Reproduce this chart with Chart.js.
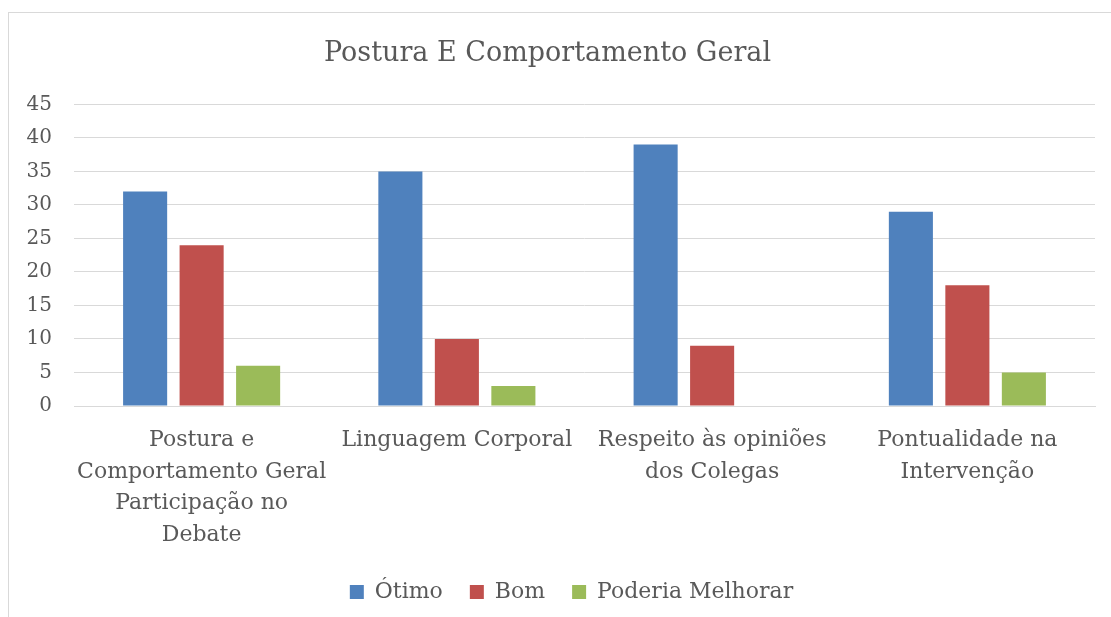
<!DOCTYPE html>
<html>
<head>
<meta charset="utf-8">
<script src="https://cdn.jsdelivr.net/npm/chart.js@4/dist/chart.umd.min.js"></script>
<style>
  html, body { margin: 0; padding: 0; background: #fff; overflow: hidden; }
  #wrap { position: relative; width: 1111px; height: 617px; }
  #frame { position: absolute; left: 8px; top: 12px; width: 1103px; height: 605px;
           border-left: 1px solid #d9d9d9; border-top: 1px solid #d9d9d9; box-sizing: border-box; pointer-events: none; }
  canvas { position: absolute; left: 0; top: 0; }
</style>
</head>
<body>
<div id="wrap">
  <canvas id="c" width="1111" height="617"></canvas>
  <div id="frame"></div>
</div>
<script>
const categories = [
  ["Postura e", "Comportamento Geral", "Participação no", "Debate"],
  ["Linguagem Corporal"],
  ["Respeito às opiniões", "dos Colegas"],
  ["Pontualidade na", "Intervenção"]
];
const seriesNames = ["Ótimo", "Bom", "Poderia Melhorar"];
const otimo = [32, 35, 39, 29];
const bom = [24, 10, 9, 18];
const poderiaMelhorar = [6, 3, 0, 5];
const yTicks = [0, 5, 10, 15, 20, 25, 30, 35, 40, 45];
const titleText = "Postura E Comportamento Geral";

const FONT = "'DejaVu Serif', 'Liberation Serif', serif";
const TXT = "#595959";

Chart.defaults.font.family = FONT;
Chart.defaults.color = TXT;

const legendShift = {
  id: 'legendShift',
  afterLayout(chart) {
    if (chart.legend) { chart.legend.left += 24; chart.legend.right += 24; }
  }
};

new Chart(document.getElementById('c'), {
  type: 'bar',
  data: {
    labels: categories,
    datasets: [
      { label: seriesNames[0], data: otimo, backgroundColor: '#4F81BD' },
      { label: seriesNames[1], data: bom, backgroundColor: '#C0504D' },
      { label: seriesNames[2], data: poderiaMelhorar, backgroundColor: '#9BBB59' }
    ]
  },
  plugins: [legendShift],
  options: {
    responsive: false,
    animation: false,
    categoryPercentage: 0.664,
    barPercentage: 0.78,
    layout: { padding: { left: 0, right: 16, top: 12, bottom: 4 } },
    plugins: {
      title: {
        display: true,
        text: titleText,
        color: TXT,
        font: { size: 27, weight: 'normal', family: FONT, lineHeight: 1.2 },
        padding: { top: 26, bottom: 34 }
      },
      legend: {
        position: 'bottom',
        labels: {
          color: TXT,
          font: { size: 22, family: FONT },
          boxWidth: 14,
          boxHeight: 14,
          padding: 27
        }
      },
      tooltip: { enabled: false }
    },
    scales: {
      x: {
        grid: { display: false, drawTicks: false },
        border: { display: true, color: '#d9d9d9' },
        ticks: { color: TXT, font: { size: 22, family: FONT, lineHeight: 1.43 }, padding: 19, maxRotation: 0, autoSkip: false },
        afterFit: s => { s.height = 148; }
      },
      y: {
        min: 0, max: 45,
        afterBuildTicks: s => { s.ticks = yTicks.map(v => ({ value: v })); },
        grid: { color: '#d9d9d9', lineWidth: 1, drawTicks: false },
        border: { display: false },
        ticks: { color: TXT, font: { size: 20, family: FONT }, padding: 22 },
        afterFit: s => { s.width = 74; }
      }
    }
  }
});
</script>
</body>
</html>
